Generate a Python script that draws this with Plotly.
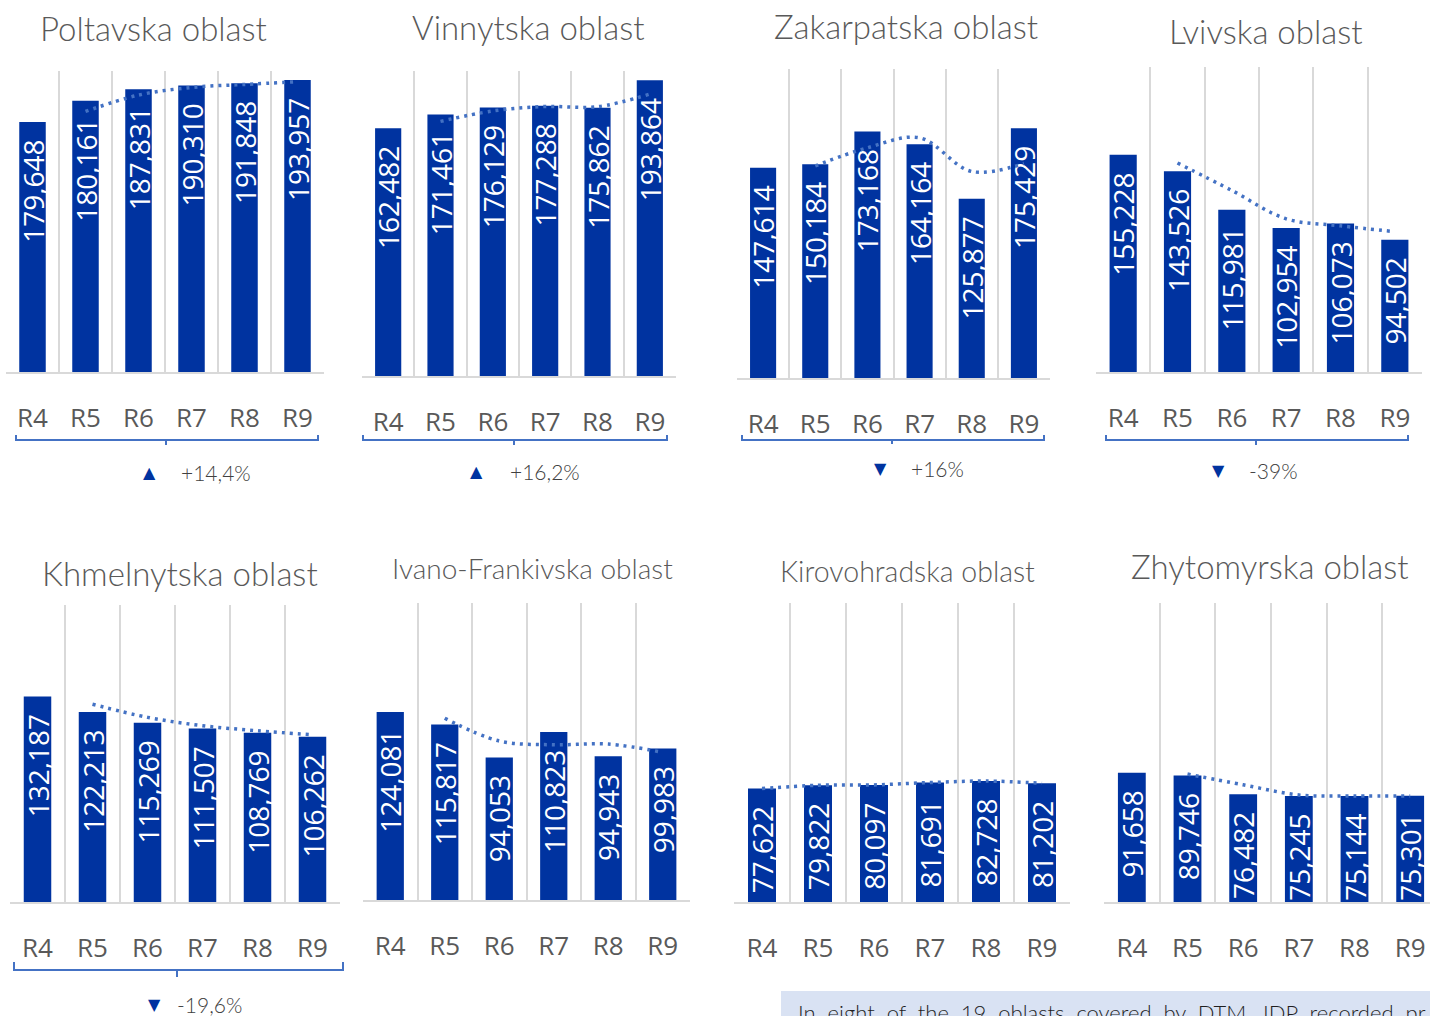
import plotly.graph_objects as go

# ---------------- data ----------------
rounds = ["R4", "R5", "R6", "R7", "R8", "R9"]

titles = ["Poltavska oblast", "Vinnytska oblast", "Zakarpatska oblast", "Lvivska oblast",
          "Khmelnytska oblast", "Ivano-Frankivska oblast", "Kirovohradska oblast",
          "Zhytomyrska oblast"]

poltavska_labels = [179648, 180161, 187831, 190310, 191848, 193957]
poltavska_bars = [166100, 180161, 187831, 190310, 191848, 193957]  # R4 bar is drawn shorter than its label
vinnytska = [162482, 171461, 176129, 177288, 175862, 193864]
zakarpatska = [147614, 150184, 173168, 164164, 125877, 175429]
lvivska = [155228, 143526, 115981, 102954, 106073, 94502]
khmelnytska = [132187, 122213, 115269, 111507, 108769, 106262]
ivano_frankivska = [124081, 115817, 94053, 110823, 94943, 99983]
kirovohradska = [77622, 79822, 80097, 81691, 82728, 81202]
zhytomyrska = [91658, 89746, 76482, 75245, 75144, 75301]

bar_values = [poltavska_bars, vinnytska, zakarpatska, lvivska,
              khmelnytska, ivano_frankivska, kirovohradska, zhytomyrska]
label_values = [poltavska_labels, vinnytska, zakarpatska, lvivska,
                khmelnytska, ivano_frankivska, kirovohradska, zhytomyrska]

change_text = ["+14,4%", "+16,2%", "+16%", "-39%", "-19,6%"]
change_arrow = ["▲", "▲", "▼", "▼", "▼"]

note_text = "In  eight  of  the  19  oblasts  covered  by  DTM,  IDP  recorded  pr"

# ---------------- style / layout ----------------
W, H = 1430, 1016
BAR = "#0033A0"
TREND = "#4472C4"
GRID = "#D9D9D9"
GRAY = "#595959"
PAD = "\u00a0\u00a0"


def px(x):
    return x / W


def py(y):
    return 1 - y / H


# plot-area boxes (left, top, right, bottom) in pixels
boxes = [(6, 71, 324, 372), (362, 71, 676, 376), (737, 69, 1050, 378), (1096, 67, 1422, 372),
         (10, 605, 340, 902), (363, 603, 690, 900), (734, 603, 1070, 902), (1104, 603, 1430, 902)]
ymax = [200000, 200000, 217000, 218000, 191000, 196000, 204500, 212000]
xmax = [5.5, 5.5, 5.5, 5.5, 5.5, 5.5, 5.5, 5.356]
title_pos = [(153, 28, 33), (528, 27, 33), (906, 26, 33), (1266, 31, 33),
             (180, 573, 33), (532, 568, 28), (907, 571, 28.5), (1270, 566, 33)]

fig = go.Figure()

for i in range(8):
    n = i + 1
    xa = "x" if n == 1 else f"x{n}"
    ya = "y" if n == 1 else f"y{n}"
    vals = bar_values[i]
    labs = [f"{v:,}" + PAD for v in label_values[i]]
    fig.add_trace(go.Bar(
        x=rounds, y=vals, xaxis=xa, yaxis=ya,
        marker=dict(color=BAR, line=dict(width=0)), width=0.5,
        text=labs, textposition="inside", insidetextanchor="end",
        textangle=-90, constraintext="none",
        textfont=dict(family="Open Sans", size=28, color="white"),
        hoverinfo="skip", showlegend=False,
    ))
    if i == 6:
        tx, ty = rounds, vals
    else:
        tx = rounds[1:]
        ty = [(vals[k - 1] + vals[k]) / 2 for k in range(1, 6)]
    fig.add_trace(go.Scatter(
        x=tx, y=ty, xaxis=xa, yaxis=ya, mode="lines",
        line=dict(color=TREND, width=3.5, dash="3px,5px", shape="spline"),
        hoverinfo="skip", showlegend=False,
    ))
    l, t, r, b = boxes[i]
    xkey = "xaxis" if n == 1 else f"xaxis{n}"
    ykey = "yaxis" if n == 1 else f"yaxis{n}"
    fig.layout[xkey] = dict(
        domain=[px(l), px(r)], anchor=ya, type="category",
        range=[-0.5, xmax[i]], tickson="boundaries", ticks="",
        showgrid=True, gridcolor=GRID, gridwidth=2,
        showline=True, linecolor=GRID, linewidth=2,
        tickfont=dict(family="Open Sans", size=26, color=GRAY),
        ticklabelstandoff=22, fixedrange=True,
    )
    fig.layout[ykey] = dict(
        domain=[py(b), py(t)], anchor=xa, range=[0, ymax[i]],
        showgrid=False, showticklabels=False, zeroline=False, showline=False,
        fixedrange=True,
    )
    tx_, ty_, fs = title_pos[i]
    fig.add_annotation(x=px(tx_), y=py(ty_), xref="paper", yref="paper",
                       text=titles[i], showarrow=False, xanchor="center", yanchor="middle",
                       font=dict(family="Lato Light, Lato", size=fs, color=GRAY))

# brackets and change annotations
brackets = [(16, 318, 166, 440, 435, 445), (363, 667, 514, 440, 435, 445),
            (742, 1044, 892, 440, 435, 444), (1106, 1408, 1256, 440, 435, 445),
            (14, 343, 177, 970, 962, 977)]
change_pos = [(149, 179, 472), (476, 508, 471), (880, 909, 468), (1218, 1247, 470), (154, 175, 1004)]

for k in range(5):
    x0, x1, xm, yl, yt, yb = brackets[k]
    path = (f"M {px(x0)},{py(yt)} L {px(x0)},{py(yl)} L {px(x1)},{py(yl)} L {px(x1)},{py(yt)} "
            f"M {px(xm)},{py(yl)} L {px(xm)},{py(yb)}")
    fig.add_shape(type="path", path=path, xref="paper", yref="paper",
                  line=dict(color=TREND, width=2))
    ax, tx0, yy = change_pos[k]
    fig.add_annotation(x=px(ax), y=py(yy), xref="paper", yref="paper", text=change_arrow[k],
                       showarrow=False, xanchor="center", yanchor="middle",
                       font=dict(family="DejaVu Sans", size=16, color=BAR))
    fig.add_annotation(x=px(tx0), y=py(yy), xref="paper", yref="paper", text=change_text[k],
                       showarrow=False, xanchor="left", yanchor="middle",
                       font=dict(family="Lato Light, Lato", size=21, color="#404040"))

# note box (cut off at the bottom-right)
fig.add_shape(type="rect", xref="paper", yref="paper", x0=px(781), x1=1.0, y0=0, y1=py(991),
              fillcolor="#D9E2F3", line=dict(width=0), layer="below")
fig.add_annotation(x=px(796), y=py(997), xref="paper", yref="paper", text=note_text,
                   showarrow=False, xanchor="left", yanchor="top",
                   font=dict(family="Lato Light, Lato", size=22, color="#1F1F1F"))

fig.update_layout(
    width=W, height=H, margin=dict(l=0, r=0, t=0, b=0),
    paper_bgcolor="white", plot_bgcolor="rgba(0,0,0,0)",
    bargap=0.5,
)

fig.write_html("out.html", config={"displayModeBar": False},
               post_script="document.body.style.margin='0';document.body.style.overflow='hidden';")
